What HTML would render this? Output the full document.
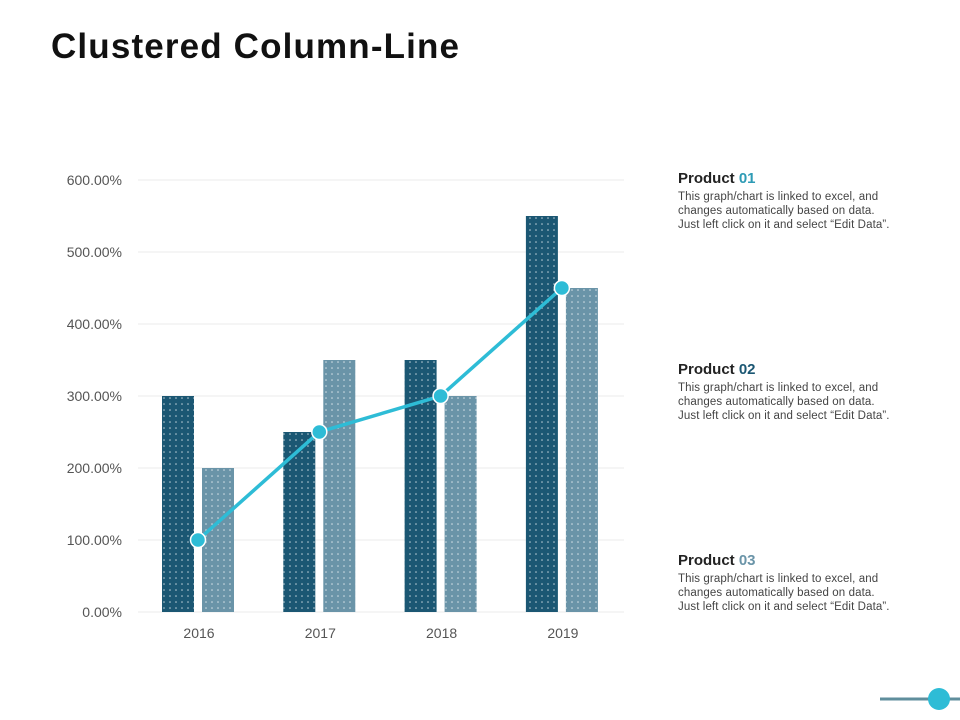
<!DOCTYPE html>
<html><head><meta charset="utf-8"><style>
body{margin:0;width:960px;height:720px;background:#fff;font-family:"Liberation Sans",Arial,sans-serif;position:relative;overflow:hidden}
h1{position:absolute;left:51px;top:27px;margin:0;font-size:35px;font-weight:bold;color:#111;letter-spacing:1.15px}
.p{position:absolute;left:678px;width:282px}
.p h3{margin:0;font-size:15px;font-weight:bold;color:#222}
.p div{font-size:11.5px;color:#444;line-height:14px;margin-top:3px;letter-spacing:0.1px;white-space:nowrap}
</style></head><body>
<h1>Clustered Column-Line</h1>
<svg id="c" width="960" height="720" style="position:absolute;left:0;top:0">
<defs><pattern id="dots" width="6" height="6" patternUnits="userSpaceOnUse"><circle cx="2" cy="2" r="0.8" fill="#fff" opacity="0.7"/></pattern></defs>
</svg>
<div class="p" style="top:170px"><h3>Product <span style="color:#2e9bb5">01</span></h3><div>This graph/chart is linked to excel, and<br>changes automatically based on data.<br>Just left click on it and select “Edit Data”.</div></div>
<div class="p" style="top:361px"><h3>Product <span style="color:#1b5773">02</span></h3><div>This graph/chart is linked to excel, and<br>changes automatically based on data.<br>Just left click on it and select “Edit Data”.</div></div>
<div class="p" style="top:552px"><h3>Product <span style="color:#6a94a8">03</span></h3><div>This graph/chart is linked to excel, and<br>changes automatically based on data.<br>Just left click on it and select “Edit Data”.</div></div>
<script>
const categories=['2016','2017','2018','2019'];
const series1=[300,250,350,550];
const series2=[200,350,300,450];
const lineVals=[100,250,300,450];
const ticks=[0,100,200,300,400,500,600];
const tickLabels=['0.00%','100.00%','200.00%','300.00%','400.00%','500.00%','600.00%'];
const svg=document.getElementById('c'),NS='http://www.w3.org/2000/svg';
const y=v=>612-v*0.72, xc=i=>198+i*121.3;
function mk(t,a){const e=document.createElementNS(NS,t);for(const k in a)e.setAttribute(k,a[k]);svg.appendChild(e);return e;}
ticks.forEach((t,i)=>{
 let l=mk('line',{x1:138,x2:624,y1:y(t),y2:y(t),stroke:'#ebebeb','stroke-width':1});
 
 
 let tx=mk('text',{x:122,y:y(t)+5,'text-anchor':'end','font-size':14,fill:'#555','font-family':'Liberation Sans'});tx.textContent=tickLabels[i];
 
 
});
categories.forEach((c,i)=>{
 [[series1,'#1b5773',-36],[series2,'#6a94a8',4]].forEach(([s,col,off])=>{
  for(const f of [col,'url(#dots)']){
   let r=mk('rect',{x:xc(i)+off,y:y(s[i]),width:32,height:612-y(s[i]),fill:f});
   
   
  }
 });
 let tx=mk('text',{x:xc(i)+1,y:638,'text-anchor':'middle','font-size':14,fill:'#555','font-family':'Liberation Sans'});tx.textContent=c;
 
 
});
let pl=mk('polyline',{points:lineVals.map((v,i)=>xc(i)+','+y(v)).join(' '),fill:'none',stroke:'#2ebcd6','stroke-width':3.5});


lineVals.forEach((v,i)=>{let p=mk('circle',{cx:xc(i),cy:y(v),r:7.5,fill:'#2ebcd6',stroke:'#fff','stroke-width':1.5});
 
 });
let d=mk('line',{x1:880,x2:960,y1:699,y2:699,stroke:'#5f8e9c','stroke-width':3});


let dc=mk('circle',{cx:939,cy:699,r:11,fill:'#2ebcd6'});


</script>
</body></html>
